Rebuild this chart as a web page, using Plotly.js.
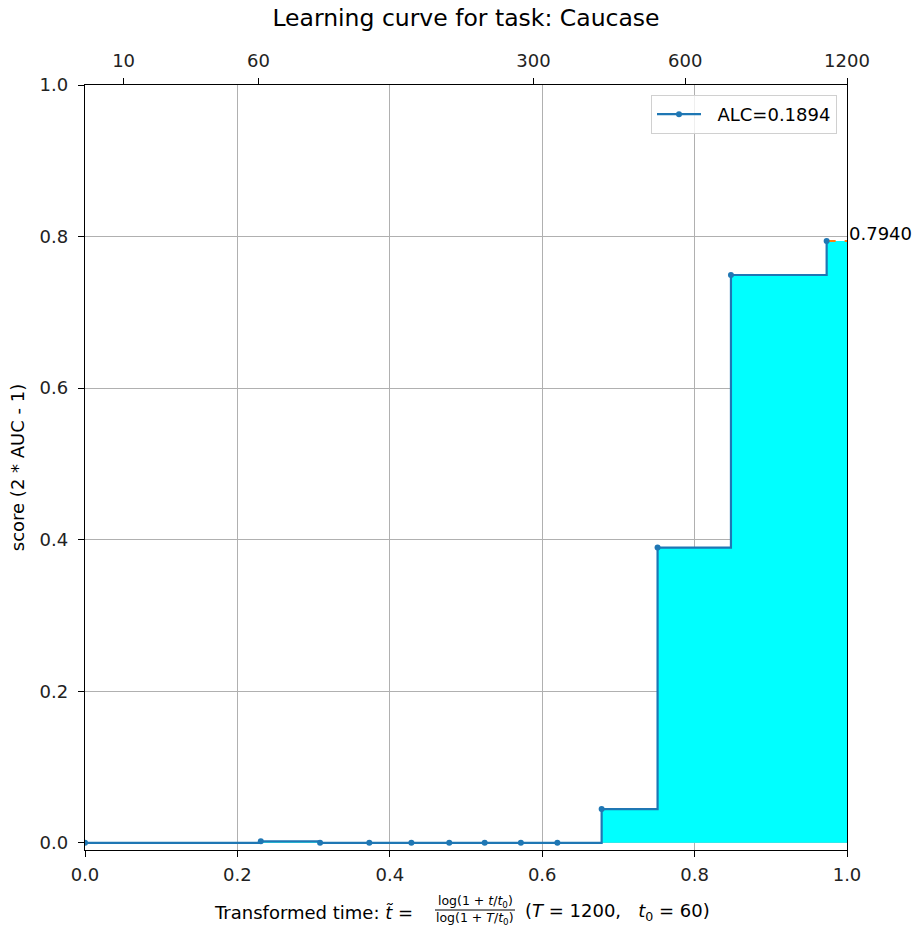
<!DOCTYPE html>
<html>
<head>
<meta charset="utf-8">
<script src="https://cdn.plot.ly/plotly-3.0.1.min.js"></script>
<style>html,body{margin:0;padding:0;background:#fff;}</style>
</head>
<body>
<div id="chart" style="width:917px;height:929px;"></div>
<script>
// ---- data ----
const tTrans = [0, 0.2307, 0.3085, 0.3731, 0.4283, 0.4780, 0.5245, 0.5720, 0.6199, 0.678, 0.7514, 0.8477, 0.9733];
const scores = [0, 0.002, 0, 0, 0, 0, 0, 0, 0, 0.0445, 0.3896, 0.7493, 0.794];
const finalScore = 0.7940;
const alcLabel = "ALC=0.1894";
const topTimes = [10, 60, 300, 600, 1200];
const topLabels = ["10", "60", "300", "600", "1200"];
const bottomTicks = [0, 0.2, 0.4, 0.6, 0.8, 1.0];
const yTicks = [0, 0.2, 0.4, 0.6, 0.8, 1.0];
const T = 1200, t0 = 60;

const topPos = topTimes.map(t => Math.log(1 + t / t0) / Math.log(1 + T / t0));
const lastX = tTrans[tTrans.length - 1];

const FONT = "DejaVu Sans, sans-serif";
const BLUE = "#1f77b4";

const fillTrace = {
  x: tTrans.concat([1]), y: scores.concat([finalScore]),
  mode: "lines", line: {shape: "hv", width: 0, color: "#00ffff"},
  fill: "tozeroy", fillcolor: "#00ffff", showlegend: false, hoverinfo: "skip"
};
const extTrace = {
  x: [lastX, 1], y: [finalScore, finalScore],
  mode: "lines", line: {color: "#ff7f0e", width: 2, dash: "dash"},
  showlegend: false, hoverinfo: "skip"
};
const mainTrace = {
  x: tTrans, y: scores, name: "&nbsp;&nbsp;" + alcLabel,
  mode: "lines+markers", line: {shape: "hv", color: BLUE, width: 2.2},
  marker: {color: BLUE, size: 6}
};
const topTrace = {x: [0, 1], y: [null, null], xaxis: "x2", yaxis: "y", mode: "markers", showlegend: false, hoverinfo: "skip"};

// paper coords helpers (plot area px: x 85..847, y 85..850)
const px = v => (v - 85) / 762;
const py = v => (850 - v) / 765;

const layout = {
  width: 917, height: 929,
  margin: {l: 85, r: 70, t: 85, b: 79},
  paper_bgcolor: "#fff", plot_bgcolor: "#fff",
  font: {family: FONT, size: 18, color: "#000"},
  title: {text: "Learning curve for task: Caucase", font: {family: FONT, size: 23.5, color: "#000"},
          x: 0.5, xref: "paper", xanchor: "center", y: 1 - 18 / 929, yanchor: "middle"},
  xaxis: {
    range: [0, 1], tickvals: bottomTicks, tickformat: ".1f",
    showline: true, linecolor: "#000", linewidth: 1.2, mirror: true,
    ticks: "outside", ticklen: 6, tickcolor: "#000", tickwidth: 1,
    showgrid: true, gridcolor: "#b0b0b0", gridwidth: 1,
    zeroline: false, automargin: false, ticklabelstandoff: 2,
    tickfont: {family: FONT, size: 18, color: "#222"}
  },
  xaxis2: {
    overlaying: "x", side: "top", range: [0, 1], anchor: "y",
    tickmode: "array", tickvals: topPos, ticktext: topLabels,
    ticks: "outside", ticklen: 6, tickcolor: "#000", tickwidth: 1,
    showgrid: false, zeroline: false, showline: false, automargin: false,
    ticklabelstandoff: 4,
    tickfont: {family: FONT, size: 18, color: "#222"}
  },
  yaxis: {
    range: [-0.0095, 1], tickvals: yTicks, tickformat: ".1f",
    showline: true, linecolor: "#000", linewidth: 1.2, mirror: true,
    ticks: "outside", ticklen: 6, tickcolor: "#000", tickwidth: 1,
    showgrid: true, gridcolor: "#b0b0b0", gridwidth: 1,
    zeroline: false, automargin: false, ticklabelstandoff: 6,
    tickfont: {family: FONT, size: 18, color: "#222"},
    title: {text: "score (2 * AUC - 1)", font: {family: FONT, size: 18, color: "#000"}, standoff: 10}
  },
  legend: {
    x: px(837), y: py(95), xanchor: "right", yanchor: "top",
    bgcolor: "rgba(255,255,255,0.8)", bordercolor: "#d0d0d0", borderwidth: 1,
    itemwidth: 44,
    font: {family: FONT, size: 18, color: "#000"}
  },
  annotations: [
    {xref: "x", yref: "y", x: 1, y: finalScore, xanchor: "left", yanchor: "middle", yshift: 8, xshift: 1,
     text: finalScore.toFixed(4), showarrow: false, borderpad: 0, font: {family: FONT, size: 18, color: "#000"}},
    {xref: "paper", yref: "paper", x: px(414), y: py(912), xanchor: "right", yanchor: "middle",
     text: "Transformed time: <i>t&#771;</i> =", showarrow: false, borderpad: 0,
     font: {family: FONT, size: 18, color: "#000"}},
    {xref: "paper", yref: "paper", x: px(475), y: py(901), xanchor: "center", yanchor: "middle",
     text: "log(1 + <i>t</i>/<i>t</i><sub>0</sub>)", showarrow: false, borderpad: 0,
     font: {family: FONT, size: 12.5, color: "#000"}},
    {xref: "paper", yref: "paper", x: px(475), y: py(919), xanchor: "center", yanchor: "middle",
     text: "log(1 + <i>T</i>/<i>t</i><sub>0</sub>)", showarrow: false, borderpad: 0,
     font: {family: FONT, size: 12.5, color: "#000"}},
    {xref: "paper", yref: "paper", x: px(524), y: py(912), xanchor: "left", yanchor: "middle",
     text: "(<i>T</i> = 1200,&nbsp;&nbsp;&nbsp;<i>t</i><sub>0</sub> = 60)", showarrow: false, borderpad: 0,
     font: {family: FONT, size: 18, color: "#000"}}
  ],
  shapes: [
    {type: "line", xref: "paper", yref: "paper", x0: px(435), x1: px(515), y0: py(910), y1: py(910),
     line: {color: "#000", width: 1}}
  ]
};

Plotly.newPlot("chart", [fillTrace, extTrace, mainTrace, topTrace], layout, {displayModeBar: false, staticPlot: true});
</script>
</body>
</html>
